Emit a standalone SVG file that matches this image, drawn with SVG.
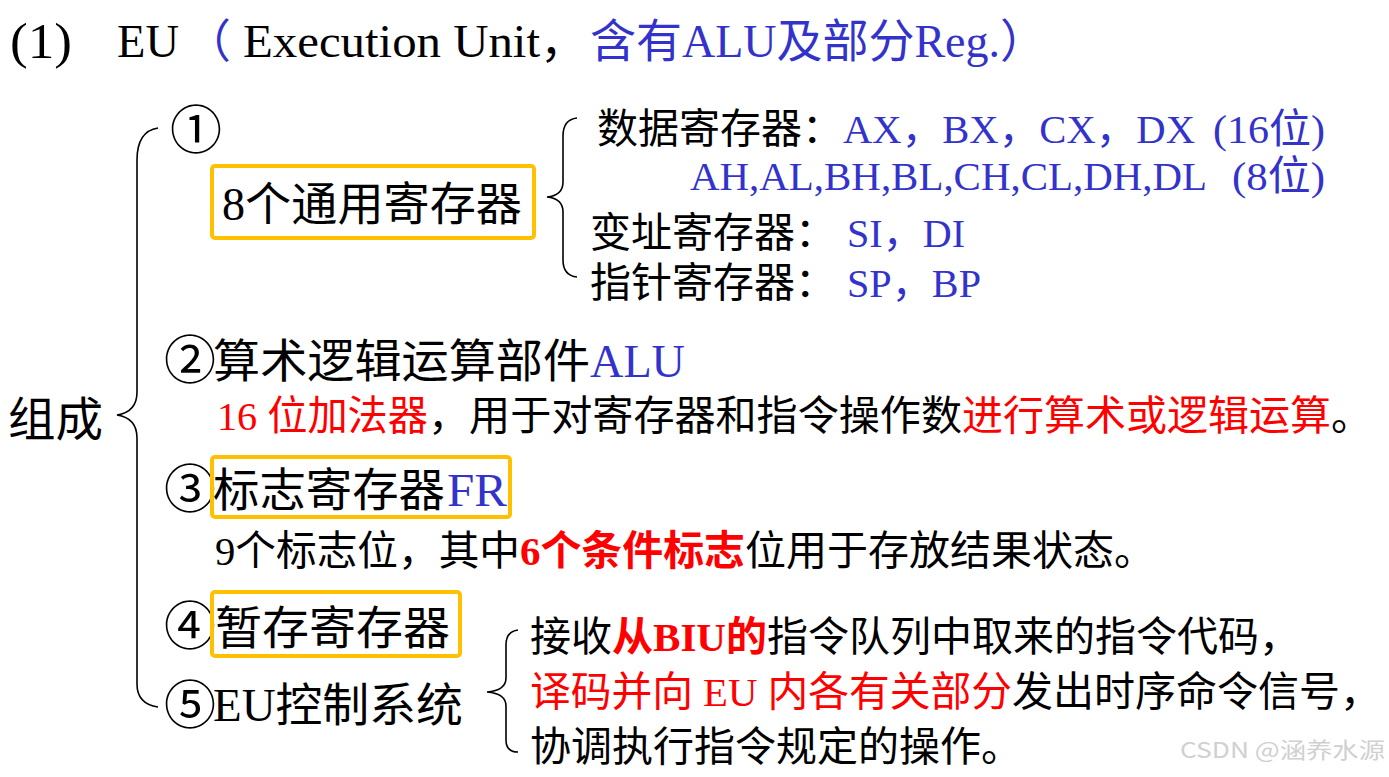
<svg xmlns="http://www.w3.org/2000/svg" width="1389" height="777" viewBox="0 0 1389 777">
<style>
text{font-family:"Liberation Serif","Noto Sans CJK SC",serif;fill:#000}
.h{font-size:46px}
.s{font-size:41px}
.c{font-size:52px;font-family:"Noto Sans CJK SC",sans-serif}
.b{fill:#3333CC}
.r{fill:#FF0000}
.bd{font-weight:bold}
.box{fill:none;stroke:#FFC000;stroke-width:4}
.brace{fill:none;stroke:#000;stroke-width:1.6}
.wm{font-family:"Noto Sans CJK SC","Noto Sans",sans-serif;font-size:22px;fill:#d0d0d0}
</style>
<rect width="1389" height="777" fill="#fff"/>
<g id="title" class="h">
<text x="10" y="58" style="font-size:50px" textLength="62" lengthAdjust="spacingAndGlyphs">(1)</text>
<text x="117" y="57" textLength="62" lengthAdjust="spacingAndGlyphs">EU</text>
<text x="185" y="57" class="b">（</text>
<text x="243" y="57" textLength="297" lengthAdjust="spacingAndGlyphs">Execution Unit</text>
<text x="540" y="57">，</text>
<text x="590" y="57" class="b" textLength="456" lengthAdjust="spacingAndGlyphs">含有ALU及部分Reg.）</text>
</g>
<g id="root">
<text x="8" y="436" style="font-size:47px" textLength="95" lengthAdjust="spacingAndGlyphs">组成</text>
</g>
<g id="item1">
<text x="170" y="149" class="c">①</text>
<rect class="box" x="212" y="166" width="322" height="72" rx="3"/>
<text x="222" y="220" class="h" textLength="300" lengthAdjust="spacingAndGlyphs">8个通用寄存器</text>
</g>
<g id="registers" class="s">
<text x="597" y="143" textLength="246" lengthAdjust="spacingAndGlyphs">数据寄存器：</text>
<text x="843" y="143" class="b" textLength="352" lengthAdjust="spacingAndGlyphs">AX，BX，CX，DX</text>
<text x="1213" y="143" class="b" textLength="112" lengthAdjust="spacingAndGlyphs">(16位)</text>
<text x="690" y="190" class="b" textLength="517" lengthAdjust="spacingAndGlyphs">AH,AL,BH,BL,CH,CL,DH,DL</text>
<text x="1232" y="190" class="b" textLength="93" lengthAdjust="spacingAndGlyphs">(8位)</text>
<text x="590" y="247" textLength="246" lengthAdjust="spacingAndGlyphs">变址寄存器：</text>
<text x="847" y="247" class="b" textLength="118" lengthAdjust="spacingAndGlyphs">SI，DI</text>
<text x="590" y="297" textLength="246" lengthAdjust="spacingAndGlyphs">指针寄存器：</text>
<text x="847" y="297" class="b" textLength="134" lengthAdjust="spacingAndGlyphs">SP，BP</text>
</g>
<g id="item2">
<text x="164" y="379" class="c">②</text>
<text x="213" y="377" class="h" textLength="377" lengthAdjust="spacingAndGlyphs">算术逻辑运算部件</text>
<text x="590" y="377" class="h b" textLength="95" lengthAdjust="spacingAndGlyphs">ALU</text>
<text x="217" y="430" class="s r" textLength="211" lengthAdjust="spacingAndGlyphs">16 位加法器</text>
<text x="428" y="430" class="s" textLength="534" lengthAdjust="spacingAndGlyphs">，用于对寄存器和指令操作数</text>
<text x="962" y="430" class="s r" textLength="369" lengthAdjust="spacingAndGlyphs">进行算术或逻辑运算</text>
<text x="1331" y="430" class="s">。</text>
</g>
<g id="item3">
<text x="164" y="508" class="c">③</text>
<rect class="box" x="212" y="457" width="298" height="60" rx="3"/>
<text x="213" y="506" class="h" textLength="232" lengthAdjust="spacingAndGlyphs">标志寄存器</text>
<text x="447" y="506" class="h b" textLength="60" lengthAdjust="spacingAndGlyphs">FR</text>
<text x="215" y="565" class="s" textLength="305" lengthAdjust="spacingAndGlyphs">9个标志位，其中</text>
<text x="520" y="565" class="s r bd" textLength="225" lengthAdjust="spacingAndGlyphs">6个条件标志</text>
<text x="745" y="565" class="s" textLength="410" lengthAdjust="spacingAndGlyphs">位用于存放结果状态。</text>
</g>
<g id="item4">
<text x="164" y="645" class="c">④</text>
<rect class="box" x="212" y="592" width="248" height="64" rx="3"/>
<text x="215" y="644" class="h" textLength="235" lengthAdjust="spacingAndGlyphs">暂存寄存器</text>
</g>
<g id="item5">
<text x="164" y="724" class="c">⑤</text>
<text x="213" y="721" class="h" textLength="250" lengthAdjust="spacingAndGlyphs">EU控制系统</text>
</g>
<g id="control-desc" class="s">
<text x="530" y="651" textLength="82" lengthAdjust="spacingAndGlyphs">接收</text>
<text x="612" y="651" class="r bd" textLength="155" lengthAdjust="spacingAndGlyphs">从BIU的</text>
<text x="767" y="651" textLength="533" lengthAdjust="spacingAndGlyphs">指令队列中取来的指令代码，</text>
<text x="530" y="706" class="r" textLength="482" lengthAdjust="spacingAndGlyphs">译码并向 EU 内各有关部分</text>
<text x="1012" y="706" textLength="369" lengthAdjust="spacingAndGlyphs">发出时序命令信号，</text>
<text x="530" y="761" textLength="492" lengthAdjust="spacingAndGlyphs">协调执行指令规定的操作。</text>
</g>
<g id="connectors">
<path class="brace" d="M158,128 C145,130 137,140 137,160 L137,392 C137,406 130,413 117,415 C130,417 137,424 137,438 L137,684 C137,698 144,705 158,707"/>
<path class="brace" d="M577,118 C568,119 563,125 563,136 L563,182 C563,192 557,196 547,197 C557,198 563,202 563,212 L563,260 C563,271 568,276 577,277"/>
<path class="brace" d="M518,630 C510,631 506,636 506,645 L506,678 C506,687 499,691 487,692 C499,693 506,697 506,706 L506,740 C506,748 510,752 518,752"/>
</g>
<text class="wm" x="1180" y="758" textLength="205" lengthAdjust="spacingAndGlyphs">CSDN @涵养水源</text>
</svg>
